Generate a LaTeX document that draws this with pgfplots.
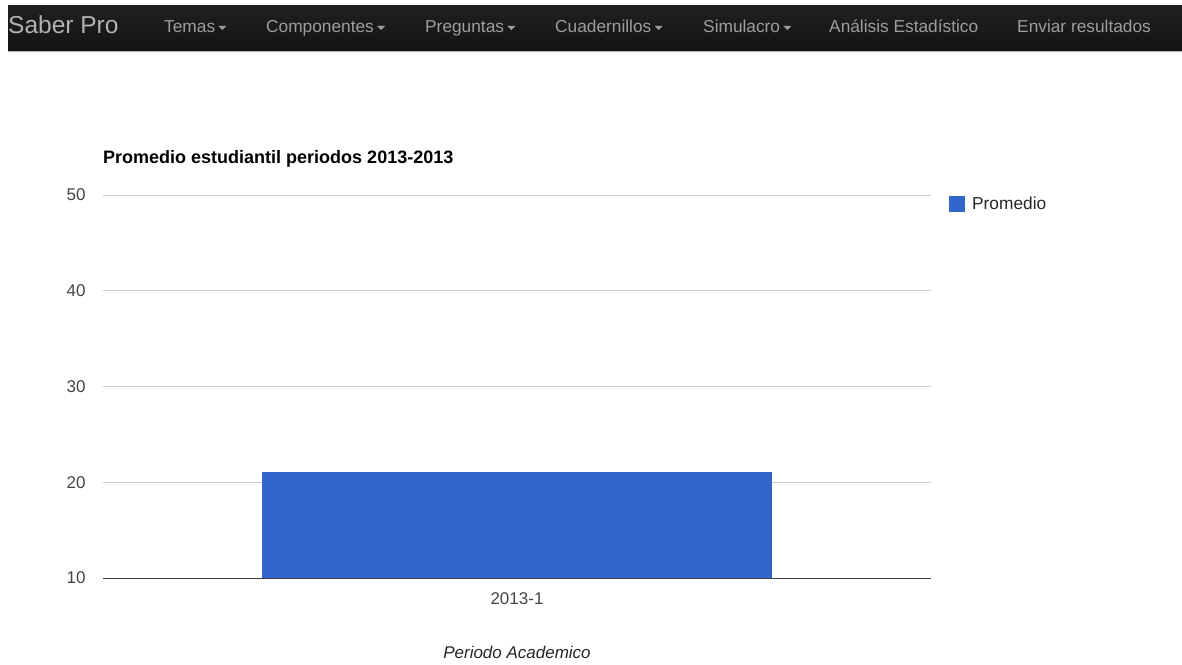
\documentclass[border=0pt]{standalone}
\usepackage{pgfplots}
\pgfplotsset{compat=1.18}
\usepackage{fontspec}
\setmainfont{Liberation Sans}
\definecolor{barblue}{HTML}{3366CC}
\definecolor{gridgray}{HTML}{CCCCCC}
\definecolor{ticklab}{HTML}{444444}
\definecolor{navtxt}{HTML}{9D9D9D}
\definecolor{navtop}{HTML}{1F1F1F}
\definecolor{navbot}{HTML}{141414}
\begin{document}
\begin{tikzpicture}[x=1pt,y=1pt]
\path[use as bounding box] (0,0) rectangle (1182,664);
% navbar
\shade[top color=navtop,bottom color=navbot] (8,613) rectangle (1182,658);
\draw[gray!60,line width=1pt] (8,612.5) -- (1182,612.5);
\begin{scope}[every node/.style={anchor=base west,inner sep=0pt,text=navtxt,font=\fontsize{17.3}{20}\selectfont}]
\node[font=\fontsize{24.5}{28}\selectfont,text=navtxt!80!white] at (8,630) {Saber Pro};
\node (n1) at (164,631) {Temas};
\node (n2) at (266,631) {Componentes};
\node (n3) at (425,631) {Preguntas};
\node (n4) at (555,631) {Cuadernillos};
\node (n5) at (703,631) {Simulacro};
\node at (829,631) {Análisis Estadístico};
\node at (1017,631) {Enviar resultados};
\end{scope}
\foreach \n in {n1,n2,n3,n4,n5}{
  \fill[navtxt] ([shift={(3,7)}]\n.base east) -- ++(8,0) -- ++(-4,-4) -- cycle;
}
\begin{axis}[
  at={(103pt,86pt)}, anchor=south west,
  scale only axis, width=828pt, height=383pt,
  ybar, bar width=510pt,
  xmin=-0.5, xmax=0.5,
  ymin=10, ymax=50,
  ytick={10,20,30,40,50},
  xtick={0}, xticklabels={2013-1},
  axis line style={draw=none},
  tick style={draw=none},
  ymajorgrids, grid style={gridgray, line width=0.8pt},
  /pgf/number format/assume math mode=true,
  yticklabel style={font=\fontsize{17}{20}\selectfont, text=ticklab, xshift=-14pt},
  xticklabel style={font=\fontsize{17}{20}\selectfont, text=ticklab, yshift=-7pt},
  xlabel={\itshape Periodo Academico},
  xlabel style={font=\fontsize{17}{20}\selectfont, text=black!85, yshift=-34pt},
  title={\bfseries Promedio estudiantil periodos 2013-2013},
  title style={at={(rel axis cs:0,1)}, anchor=base west, inner sep=0pt, yshift=26pt, font=\fontsize{18}{21}\selectfont},
  legend style={at={(rel axis cs:1.0217,1.0)}, anchor=north west, draw=none, fill=none,
    font=\fontsize{17.3}{20}\selectfont, text=black!85, inner sep=0pt},
  legend image code/.code={\fill[barblue] (0pt,-8pt) rectangle (16pt,8pt); \path (21pt,0pt);},
]
\addplot[fill=barblue, draw=none] coordinates {(0,21.1)};
\addlegendentry{Promedio}
\draw[black!75, line width=1pt] (rel axis cs:0,0) -- (rel axis cs:1,0);
\end{axis}
\end{tikzpicture}
\end{document}
